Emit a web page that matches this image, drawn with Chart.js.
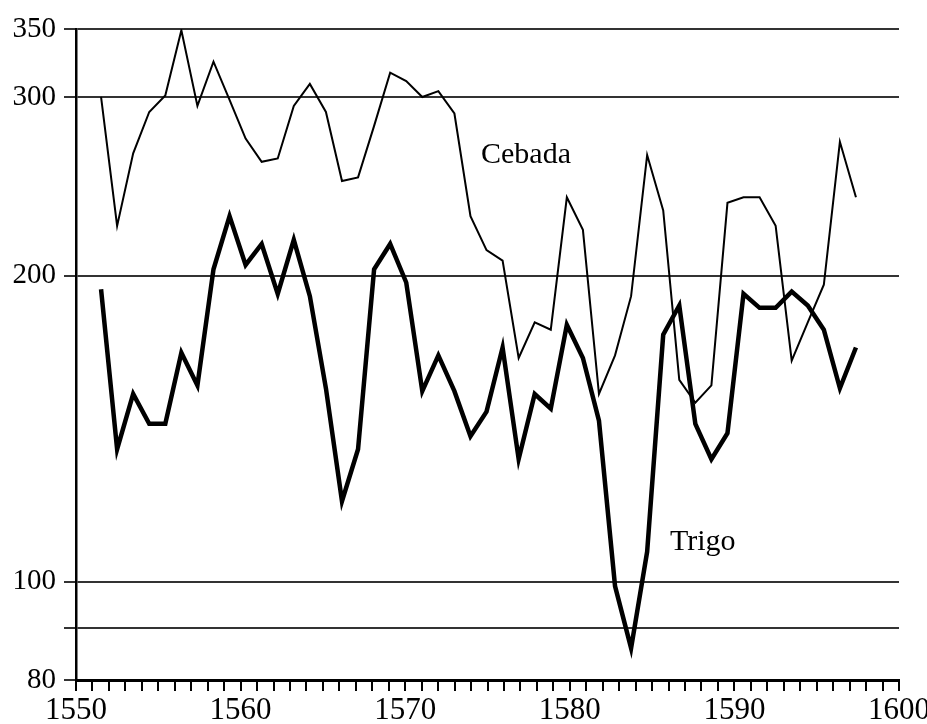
<!DOCTYPE html>
<html>
<head>
<meta charset="utf-8">
<script src="https://cdn.jsdelivr.net/npm/chart.js@4.4.1/dist/chart.umd.min.js"></script>
<style>
  html, body { margin: 0; padding: 0; background: #fff; }
  #wrap { width: 927px; height: 724px; position: relative; }
</style>
</head>
<body>
<div id="wrap"><canvas id="chart-1"></canvas></div>
<script>
const years = [1551, 1552, 1553, 1554, 1555, 1556, 1557, 1558, 1559, 1560, 1561, 1562,
  1563, 1564, 1565, 1566, 1567, 1568, 1569, 1570, 1571, 1572, 1573, 1574,
  1575, 1576, 1577, 1578, 1579, 1580, 1581, 1582, 1583, 1584, 1585, 1586,
  1587, 1588, 1589, 1590, 1591, 1592, 1593, 1594, 1595, 1596, 1597, 1598];

const cebada = [300, 224, 264, 290, 301, 349, 294, 325, 298, 273, 259, 261,
  294, 309, 290, 248, 250, 281, 317, 311, 300, 304, 289, 229,
  212, 207, 166, 180, 177, 239, 222, 153, 167, 191, 263, 232,
  158, 150, 156, 236, 239, 239, 224, 165, 180, 196, 271, 239];

const trigo = [194, 135, 153, 143, 143, 168, 156, 203, 229, 205, 215, 192,
  217, 191, 155, 120, 135, 203, 215, 197, 154, 167, 154, 139,
  147, 170, 132, 153, 148, 179, 166, 144, 99, 86, 107, 175,
  187, 143, 132, 140, 192, 186, 186, 193, 187, 177, 155, 170];

const xTicks = [1550, 1551, 1552, 1553, 1554, 1555, 1556, 1557, 1558, 1559, 1560,
  1561, 1562, 1563, 1564, 1565, 1566, 1567, 1568, 1569, 1570,
  1571, 1572, 1573, 1574, 1575, 1576, 1577, 1578, 1579, 1580,
  1581, 1582, 1583, 1584, 1585, 1586, 1587, 1588, 1589, 1590,
  1591, 1592, 1593, 1594, 1595, 1596, 1597, 1598, 1599, 1600];
const xLabels = [1550, 1560, 1570, 1580, 1590, 1600];
const yTicks = [80, 90, 100, 200, 300, 350];
const yLabels = [80, 100, 200, 300, 350];

const serif = "'Liberation Serif', 'DejaVu Serif', serif";

// series names written next to the lines
const seriesLabels = {
  id: "seriesLabels",
  afterDatasetsDraw(chart) {
    const ctx = chart.ctx;
    ctx.save();
    ctx.fillStyle = "#000";
    ctx.font = "30px " + serif;
    ctx.textAlign = "left";
    ctx.textBaseline = "alphabetic";
    ctx.fillText("Cebada", 481, 163);
    ctx.fillText("Trigo", 670, 550);
    ctx.restore();
  }
};

new Chart(document.getElementById("chart-1"), {
  type: "line",
  data: {
    datasets: [
      {
        label: "Cebada",
        data: years.map((y, i) => ({ x: y, y: cebada[i] })),
        borderColor: "#000",
        borderWidth: 2,
        borderJoinStyle: "miter",
        pointRadius: 0,
        tension: 0,
        xAxisID: "xd"
      },
      {
        label: "Trigo",
        data: years.map((y, i) => ({ x: y, y: trigo[i] })),
        borderColor: "#000",
        borderWidth: 4.5,
        borderJoinStyle: "miter",
        pointRadius: 0,
        tension: 0,
        xAxisID: "xd"
      }
    ]
  },
  options: {
    responsive: true,
    maintainAspectRatio: false,
    animation: false,
    layout: {
      padding: { top: 29, right: 28, left: 0, bottom: 0 }
    },
    plugins: {
      legend: { display: false },
      tooltip: { enabled: false }
    },
    scales: {
      x: {
        type: "linear",
        position: "bottom",
        min: 1550,
        max: 1600,
        afterBuildTicks: (scale) => {
          scale.ticks = xTicks.map(v => ({ value: v }));
        },
        afterFit: (scale) => {
          scale.height = 44;
          // let the 1600 label run to the page edge like the original
          scale.paddingLeft = 0;
          scale.paddingRight = 0;
        },
        grid: {
          drawOnChartArea: false,
          drawTicks: true,
          tickLength: 11,
          color: "#000",
          lineWidth: 2
        },
        border: { color: "#000", width: 3 },
        ticks: {
          autoSkip: false,
          maxRotation: 0,
          minRotation: 0,
          padding: 1,
          color: "#000",
          font: { size: 31, family: serif },
          callback: (v) => xLabels.includes(v) ? String(v) : ""
        }
      },
      xd: {
        type: "linear",
        display: false,
        min: 1549.44,
        max: 1600.68
      },
      y: {
        type: "logarithmic",
        position: "left",
        min: 80,
        max: 350,
        afterBuildTicks: (scale) => {
          scale.ticks = yTicks.map(v => ({ value: v }));
        },
        afterFit: (scale) => { scale.width = 76; },
        grid: {
          color: "#333",
          lineWidth: 2,
          drawTicks: true,
          tickLength: 12
        },
        border: { color: "#000", width: 2.5 },
        ticks: {
          padding: 8,
          color: "#000",
          font: { size: 29, family: serif },
          callback: (v) => yLabels.includes(v) ? String(v) : ""
        }
      }
    }
  },
  plugins: [seriesLabels]
});
</script>
</body>
</html>
